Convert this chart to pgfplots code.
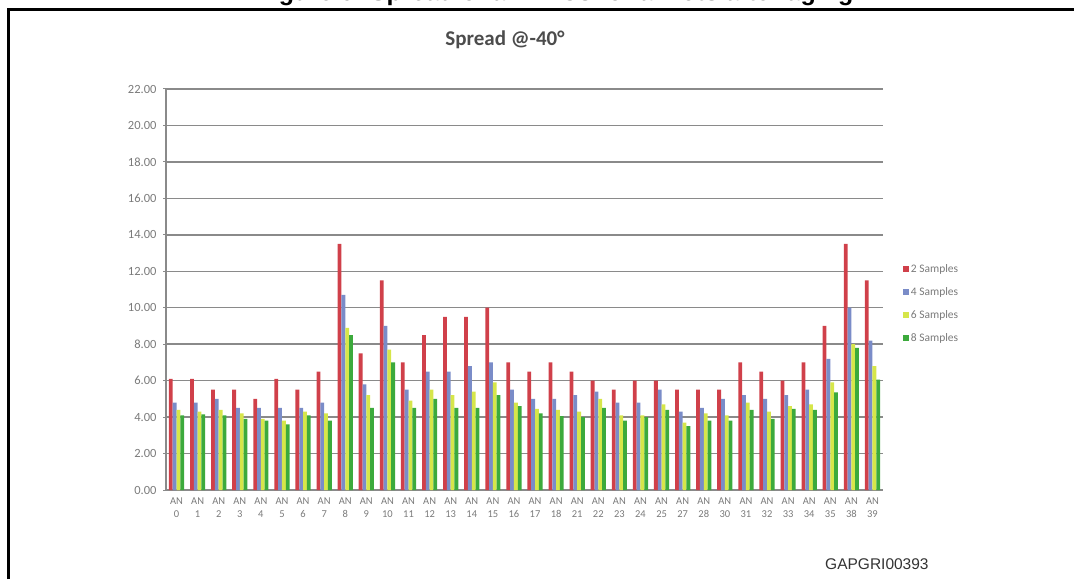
\documentclass[border=0pt]{standalone}
\usepackage{pgfplots}
\pgfplotsset{compat=1.18}
\usepackage{pgfplotstable}
\usepackage{fontspec}
\setmainfont{Carlito}
\newfontfamily\arial{Liberation Sans}
\definecolor{cred}{HTML}{D0404A}
\definecolor{cblue}{HTML}{7A8CC8}
\definecolor{cyel}{HTML}{D6E64A}
\definecolor{cgreen}{HTML}{3CAA3C}
\definecolor{tgray}{HTML}{7A7A7A}
\definecolor{ggray}{HTML}{8A8A8A}
\pgfplotstableread{
idx r b y g
0 6.1 4.8 4.4 4.1
1 6.1 4.8 4.3 4.15
2 5.5 5.0 4.4 4.1
3 5.5 4.5 4.2 3.9
4 5.0 4.5 3.9 3.8
5 6.1 4.5 3.8 3.6
6 5.5 4.5 4.3 4.1
7 6.5 4.8 4.2 3.8
8 13.5 10.7 8.9 8.5
9 7.5 5.8 5.2 4.5
10 11.5 9.0 7.7 7.0
11 7.0 5.5 4.9 4.5
12 8.5 6.5 5.5 5.0
13 9.5 6.5 5.2 4.5
14 9.5 6.8 5.4 4.5
15 10.0 7.0 5.9 5.2
16 7.0 5.5 4.8 4.6
17 6.5 5.0 4.45 4.2
18 7.0 5.0 4.4 4.05
19 6.5 5.2 4.3 4.0
20 6.0 5.4 5.0 4.5
21 5.5 4.8 4.1 3.8
22 6.0 4.8 4.1 4.0
23 6.0 5.5 4.7 4.4
24 5.5 4.3 3.7 3.5
25 5.5 4.5 4.2 3.8
26 5.5 5.0 4.1 3.8
27 7.0 5.2 4.8 4.4
28 6.5 5.0 4.3 3.9
29 6.0 5.2 4.6 4.45
30 7.0 5.5 4.7 4.4
31 9.0 7.2 5.9 5.35
32 13.5 10.0 8.0 7.8
33 11.5 8.2 6.8 6.05
}\data
\pgfplotsset{sqleg/.style={legend image code/.code={\fill[##1] (0pt,-2.8pt) rectangle (5.6pt,2.8pt);}}}
\begin{document}
\begin{tikzpicture}
\useasboundingbox (0pt,0pt) rectangle (1074pt,579pt);
\clip (0pt,0pt) rectangle (1074pt,579pt);
\node[anchor=base, font=\arial\bfseries\fontsize{25}{25}\selectfont, inner sep=0pt] at (555pt,578pt) {Figure 6. Spread of all NTCs for all lots after aging};
\draw[line width=3pt] (8.5pt,0pt) -- (8.5pt,569pt) -- (1074pt,569pt);
\node[font=\bfseries\fontsize{21}{21}\selectfont, text=black!70] at (505pt,539pt) {Spread @-40°};
\node[anchor=base west, font=\arial\fontsize{15.5}{15.5}\selectfont, text=black!80, inner sep=0pt] at (825pt,10pt) {GAPGRI00393};
\begin{axis}[
  at={(166pt,89pt)}, anchor=south west,
  scale only axis, width=717pt, height=401pt,
  ybar=0pt, bar width=3.8pt,
  xmin=-0.5, xmax=33.5, ymin=0, ymax=22,
  xtick=data,
  xticklabels={{AN\\0},{AN\\1},{AN\\2},{AN\\3},{AN\\4},{AN\\5},{AN\\6},{AN\\7},{AN\\8},{AN\\9},{AN\\10},{AN\\11},{AN\\12},{AN\\13},{AN\\14},{AN\\15},{AN\\16},{AN\\17},{AN\\18},{AN\\21},{AN\\22},{AN\\23},{AN\\24},{AN\\25},{AN\\27},{AN\\28},{AN\\30},{AN\\31},{AN\\32},{AN\\33},{AN\\34},{AN\\35},{AN\\38},{AN\\39}},
  xticklabel style={align=center, font=\fontsize{10.5}{13}\selectfont, text=tgray, yshift=-1pt},
  x tick style={draw=none},
  ytick={0,2,...,22},
  yticklabel style={font=\fontsize{12.5}{12.5}\selectfont, text=tgray, xshift=-3pt},
  /pgf/number format/.cd, fixed, fixed zerofill, precision=2, assume math mode=true, /pgfplots/.cd,
  y tick style={draw=ggray, line width=1pt},
  tick align=outside, major tick length=3pt,
  ymajorgrids, major grid style={draw=ggray, line width=1.4pt},
  axis lines*=left,
  axis line style={draw=ggray, line width=1.4pt, -},
  legend style={at={(1.028,0.465)}, anchor=west, draw=none, fill=none,
    font=\fontsize{11.5}{11.5}\selectfont, text=tgray, row sep=9.5pt, inner sep=0pt},
  legend cell align=left,
]
\addplot[fill=cred, draw=none, sqleg] table[x=idx,y=r]{\data};
\addplot[fill=cblue, draw=none, sqleg] table[x=idx,y=b]{\data};
\addplot[fill=cyel, draw=none, sqleg] table[x=idx,y=y]{\data};
\addplot[fill=cgreen, draw=none, sqleg] table[x=idx,y=g]{\data};
\legend{2 Samples,4 Samples,6 Samples,8 Samples}
\end{axis}
\end{tikzpicture}
\end{document}
